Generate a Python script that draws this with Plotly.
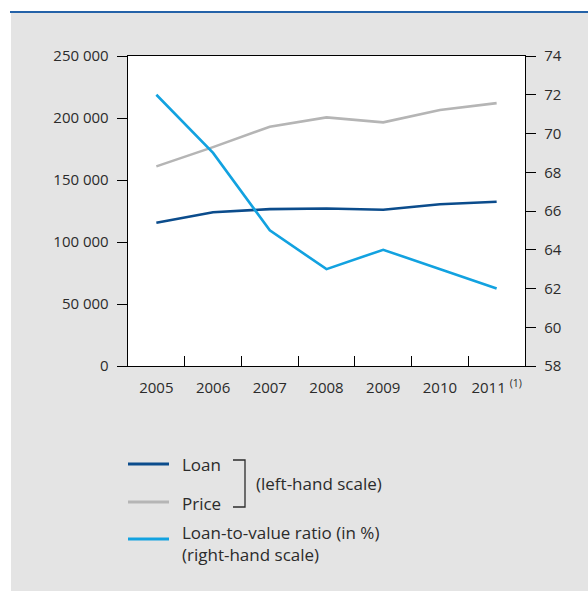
import plotly.graph_objects as go

years = ["2005", "2006", "2007", "2008", "2009", "2010", "2011 <sup>(1)</sup>"]
loan = [115500, 124000, 126500, 127000, 126000, 130500, 132500]
price = [161000, 176500, 193000, 200500, 196500, 206500, 212000]
ltv = [72.0, 69.0, 65.0, 63.0, 64.0, 63.0, 62.0]

left_ticks = [0, 50000, 100000, 150000, 200000, 250000]
left_text = ["0", "50 000", "100 000", "150 000", "200 000", "250 000"]
right_ticks = [58, 60, 62, 64, 66, 68, 70, 72, 74]

C_LOAN = "#0B4C8C"
C_PRICE = "#B5B5B5"
C_LTV = "#12A2E0"
TXT = "#2b2b2b"
FONT = "Open Sans"
TICK_SIZE = 15
LEG_SIZE = 17

W, H = 588, 591
L, R, T, B = 128, 525, 56, 366


def px(x):
    return (x - L) / (R - L)


def py(y):
    return (B - y) / (B - T)


fig = go.Figure()
fig.add_trace(go.Scatter(x=years, y=loan, mode="lines", line=dict(color=C_LOAN, width=2.6), yaxis="y"))
fig.add_trace(go.Scatter(x=years, y=price, mode="lines", line=dict(color=C_PRICE, width=2.6), yaxis="y"))
fig.add_trace(go.Scatter(x=years, y=ltv, mode="lines", line=dict(color=C_LTV, width=2.6), yaxis="y2"))

shapes = []
# white page margins + blue top rule
shapes.append(dict(type="rect", xref="paper", yref="paper", x0=px(0), x1=px(W), y0=py(0), y1=py(12),
                   fillcolor="white", line=dict(width=0), layer="below"))
shapes.append(dict(type="rect", xref="paper", yref="paper", x0=px(0), x1=px(11), y0=py(0), y1=py(H),
                   fillcolor="white", line=dict(width=0), layer="below"))
shapes.append(dict(type="line", xref="paper", yref="paper", x0=px(10), x1=px(W), y0=py(12), y1=py(12),
                   line=dict(color="#2462A8", width=2)))

# legend lines
for yy, col in [(464, C_LOAN), (502, C_PRICE), (539, C_LTV)]:
    shapes.append(dict(type="line", xref="paper", yref="paper", x0=px(128), x1=px(169), y0=py(yy), y1=py(yy),
                       line=dict(color=col, width=3)))
# bracket
shapes.append(dict(type="path", xref="paper", yref="paper",
                   path=f"M {px(233)} {py(460)} L {px(245)} {py(460)} L {px(245)} {py(507)} L {px(233)} {py(507)}",
                   line=dict(color=TXT, width=1.3)))

annotations = []
def ann(text, x, y, size=LEG_SIZE):
    annotations.append(dict(text=text, xref="paper", yref="paper", x=px(x), y=py(y), xanchor="left",
                            yanchor="middle", showarrow=False, xshift=-2,
                            font=dict(family=FONT, size=size, color=TXT)))

ann("Loan", 182, 464)
ann("Price", 182, 503)
ann("(left-hand scale)", 256, 483)
ann("Loan-to-value ratio (in %)", 182, 532)
ann("(right-hand scale)", 182, 554)

fig.update_layout(
    width=W, height=H,
    margin=dict(l=L, r=W - R, t=T, b=H - B),
    paper_bgcolor="#E4E4E4",
    plot_bgcolor="white",
    showlegend=False,
    hovermode=False,
    font=dict(family=FONT, size=TICK_SIZE, color=TXT),
    shapes=shapes,
    annotations=annotations,
    xaxis=dict(type="category", tickson="boundaries", ticks="inside", ticklen=10, tickcolor="black",
               showline=True, linecolor="black", linewidth=1.3, mirror=True, showgrid=False,
               ticklabelstandoff=8, tickangle=0,
               tickfont=dict(family=FONT, size=TICK_SIZE, color=TXT), range=[-0.5, 6.5]),
    yaxis=dict(range=[0, 250000], tickvals=left_ticks, ticktext=left_text, ticks="outside", ticklen=10,
               tickcolor="black", showline=True, linecolor="black", linewidth=1.3, showgrid=False,
               zeroline=False, ticklabelstandoff=5, tickfont=dict(family=FONT, size=TICK_SIZE, color=TXT)),
    yaxis2=dict(range=[58, 74], tickvals=right_ticks, overlaying="y", side="right", ticks="outside",
                ticklen=10, tickcolor="black", showline=True, linecolor="black", linewidth=1.3,
                showgrid=False, zeroline=False, ticklabelstandoff=5,
                tickfont=dict(family=FONT, size=TICK_SIZE, color=TXT)),
)

fig.write_html("out.html", config={"displayModeBar": False, "staticPlot": True},
               post_script="document.body.style.margin='0';document.body.style.overflow='hidden';")
